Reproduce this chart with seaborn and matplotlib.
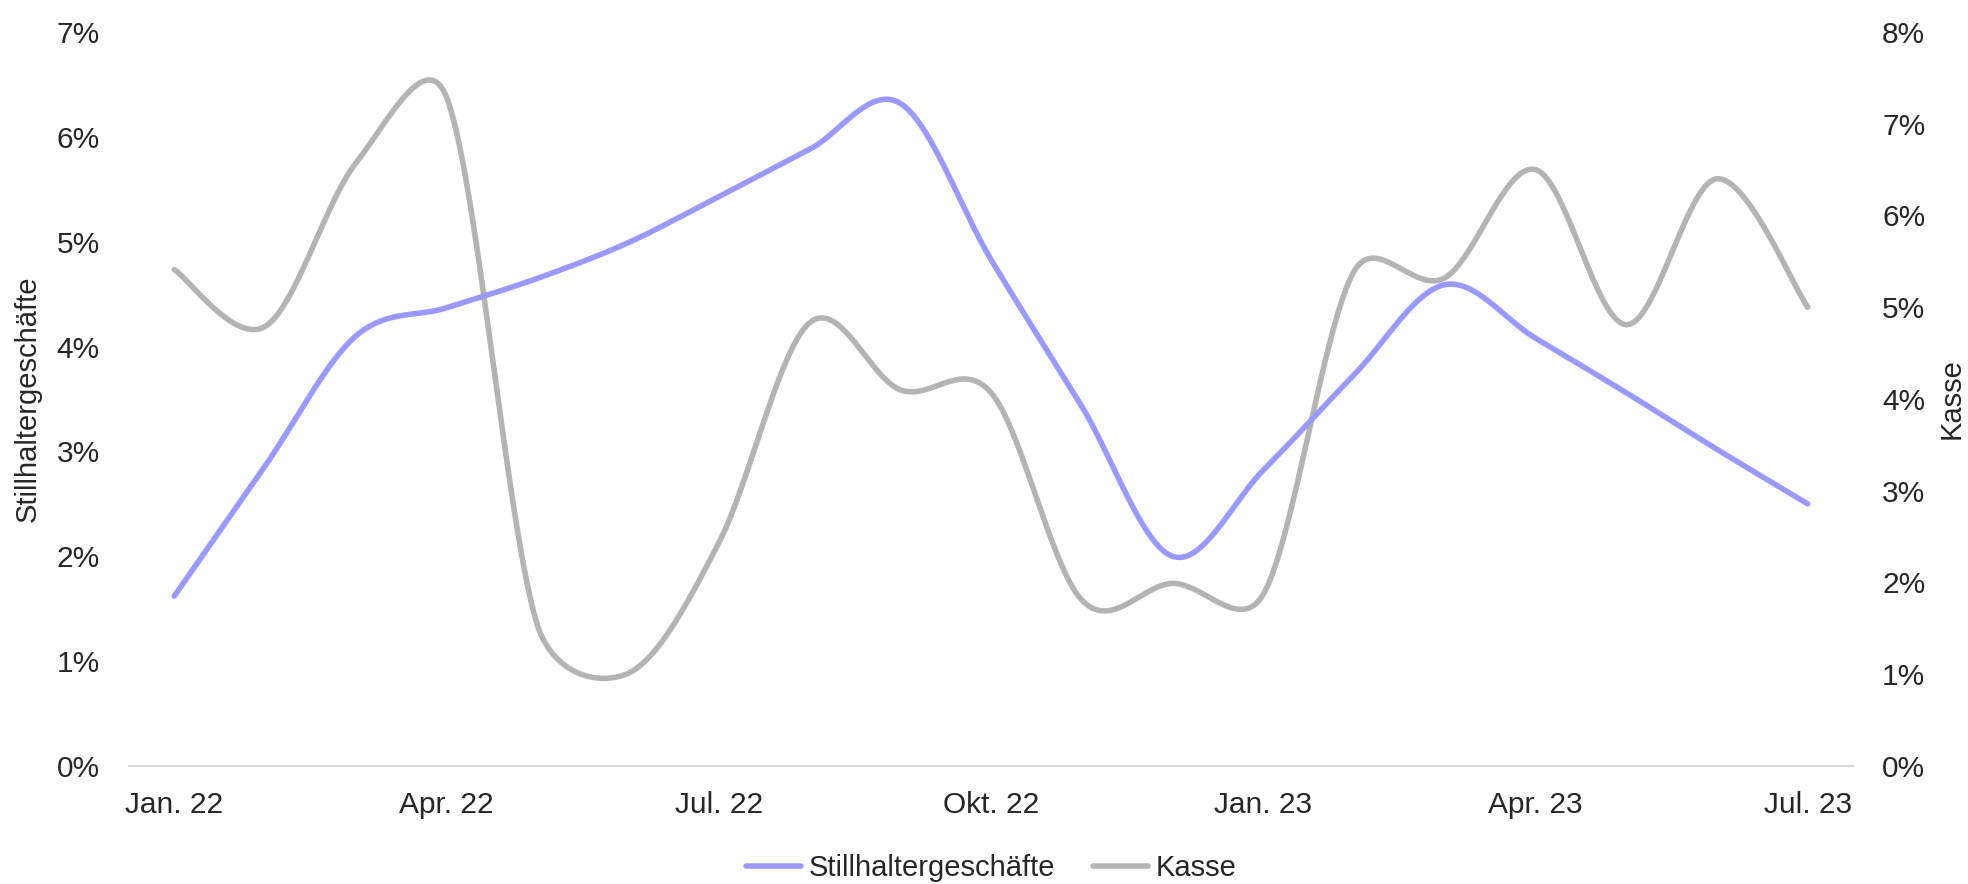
import numpy as np
import pandas as pd
import seaborn as sns
import matplotlib.pyplot as plt
from matplotlib.ticker import PercentFormatter

# monthly values, Jan. 22 .. Jul. 23
months = ["Jan. 22", "Feb. 22", "Mär. 22", "Apr. 22", "Mai. 22", "Jun. 22", "Jul. 22",
          "Aug. 22", "Sep. 22", "Okt. 22", "Nov. 22", "Dez. 22", "Jan. 23", "Feb. 23",
          "Mär. 23", "Apr. 23", "Mai. 23", "Jun. 23", "Jul. 23"]
stillhalter = [1.62, 2.86, 4.10, 4.37, 4.65, 4.99, 5.43, 5.88, 6.32, 4.83, 3.43, 2.00,
               2.82, 3.73, 4.59, 4.08, 3.56, 3.02, 2.50]
kasse = [5.41, 4.79, 6.57, 7.29, 1.54, 1.01, 2.43, 4.83, 4.10, 4.07, 1.81, 1.99,
         1.87, 5.39, 5.32, 6.50, 4.81, 6.40, 5.00]
tick_labels = ["Jan. 22", "Apr. 22", "Jul. 22", "Okt. 22", "Jan. 23", "Apr. 23", "Jul. 23"]

PURPLE = "#9999FF"
GREY = "#B4B4B4"
TXT = "#262626"


def smooth(y, sx, sy, n=40):
    # excel-style smoothed line: catmull-rom bezier (tension 1/6),
    # handle length capped at half the segment length (pixel space)
    pts = np.column_stack([np.arange(len(y)) * sx, np.asarray(y, float) * sy])
    out = []
    for i in range(len(pts) - 1):
        p1, p2 = pts[i], pts[i + 1]
        p0 = pts[i - 1] if i > 0 else p1
        p3 = pts[i + 2] if i + 2 < len(pts) else p2
        d12 = np.hypot(*(p2 - p1))
        h1 = (p2 - p0) / 6
        h2 = (p3 - p1) / 6
        l1, l2 = np.hypot(*h1), np.hypot(*h2)
        if l1 > d12 / 2:
            h1 = h1 * (d12 / 2) / l1
        if l2 > d12 / 2:
            h2 = h2 * (d12 / 2) / l2
        c1 = p1 + h1
        c2 = p2 - h2
        t = np.linspace(0, 1, n, endpoint=False)[:, None]
        b = (1 - t)**3 * p1 + 3 * (1 - t)**2 * t * c1 + 3 * (1 - t) * t**2 * c2 + t**3 * p2
        out.append(b)
    out.append(pts[-1:])
    out = np.vstack(out)
    return out[:, 0] / sx, out[:, 1] / sy


sns.set_style("white")
plt.rcParams['font.family'] = ['Liberation Sans', 'DejaVu Sans']
plt.rcParams['font.size'] = 21

fig, ax = plt.subplots(figsize=(19.68, 8.84), dpi=100)
fig.subplots_adjust(left=0.0655, right=0.9416, bottom=0.1335, top=0.9638)
ax2 = ax.twinx()

# pixel sizes of one month / one percent on each axis
x1, y1 = smooth(stillhalter, 90.8, 104.8)
x2, y2 = smooth(kasse, 90.8, 91.7)
df1 = pd.DataFrame({"x": x1, "y": y1})
df2 = pd.DataFrame({"x": x2, "y": y2})

sns.lineplot(data=df2, x="x", y="y", ax=ax2, color=GREY, lw=4, sort=False,
             solid_capstyle="round", label="Kasse", legend=False)
sns.lineplot(data=df1, x="x", y="y", ax=ax, color=PURPLE, lw=4, sort=False,
             solid_capstyle="round", label="Stillhaltergeschäfte", legend=False)
ax.set_zorder(ax2.get_zorder() + 1)
ax.patch.set_visible(False)

ax.set_xlim(-0.5, len(months) - 0.5)
ax.set_ylim(0, 7)
ax2.set_ylim(0, 8)
ax.set_yticks(range(0, 8))
ax2.set_yticks(range(0, 9))
ax.yaxis.set_major_formatter(PercentFormatter(decimals=0))
ax2.yaxis.set_major_formatter(PercentFormatter(decimals=0))
ax.set_xticks([months.index(m) for m in tick_labels])
ax.set_xticklabels(tick_labels)

for a in (ax, ax2):
    for s in a.spines.values():
        s.set_visible(False)
    a.spines["bottom"].set_visible(True)
    a.spines["bottom"].set_color("#D9D9D9")
    a.spines["bottom"].set_linewidth(1.5)
    a.tick_params(length=0, colors=TXT, labelsize=21.5)
ax.tick_params(axis="y", pad=21)
ax2.tick_params(axis="y", pad=21)
ax.tick_params(axis="x", pad=18)

ax.set_xlabel("")
ax.set_ylabel("Stillhaltergeschäfte", color=TXT, fontsize=21)
ax2.set_ylabel("Kasse", color=TXT, fontsize=21, rotation=90)
ax.yaxis.set_label_coords(-0.0505, 0.5)
ax2.yaxis.set_label_coords(1.049, 0.5)

h1, l1 = ax.get_legend_handles_labels()
h2, l2 = ax2.get_legend_handles_labels()
ax.legend(h1 + h2, l1 + l2, loc="center", bbox_to_anchor=(0.5, -0.139), ncol=2,
          frameon=False, fontsize=21, handlelength=1.9, handletextpad=0.25,
          columnspacing=1.3, labelcolor=TXT)

fig.savefig("out.png", dpi=100)
